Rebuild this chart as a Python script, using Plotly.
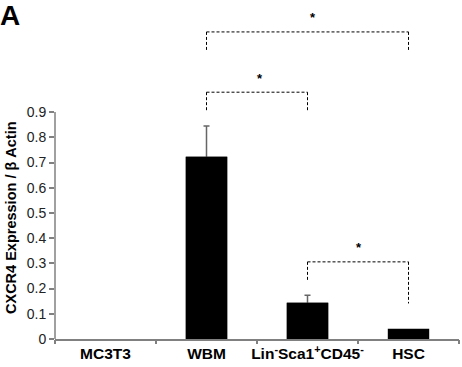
import plotly.graph_objects as go

categories = ["MC3T3", "WBM", "Lin<sup>-</sup>Sca1<sup>+</sup>CD45<sup>-</sup>", "HSC"]
values = [0.0, 0.723, 0.144, 0.041]
errors = [None, 0.122, 0.030, None]
y_ticks = [0, 0.1, 0.2, 0.3, 0.4, 0.5, 0.6, 0.7, 0.8, 0.9]
y_tick_labels = ["0", "0.1", "0.2", "0.3", "0.4", "0.5", "0.6", "0.7", "0.8", "0.9"]

# significance brackets
bracket_left = [1, 1, 2]
bracket_right = [3, 2, 3]
bracket_top = [1.218, 0.979, 0.306]
bracket_left_foot = [1.139, 0.900, 0.227]
bracket_right_foot = [1.139, 0.900, 0.141]
star_x = [2.05, 1.53, 2.51]
star_y = [1.29, 1.05, 0.38]

font_family = "Liberation Sans, Arial, sans-serif"

idx = list(range(len(categories)))
err_x = [i for i, e in zip(idx, errors) if e is not None]
err_y = [values[i] for i in err_x]
err_v = [errors[i] for i in err_x]

fig = go.Figure()
# bars carrying the error bars (drawn first, their lower half hidden below)
fig.add_trace(go.Bar(
    x=err_x, y=err_y,
    marker=dict(color="black", line=dict(width=0)),
    error_y=dict(type="data", symmetric=True, array=err_v,
                 color="#666666", thickness=1.5, width=3),
    showlegend=False, hoverinfo="skip",
))
# main bars on top
fig.add_trace(go.Bar(
    x=idx, y=values,
    marker=dict(color="black", line=dict(width=0)),
    showlegend=False,
))

shapes = []
for l, r, t, lf, rf in zip(bracket_left, bracket_right, bracket_top,
                           bracket_left_foot, bracket_right_foot):
    dash = dict(color="black", width=1, dash="3px,2px")
    shapes.append(dict(type="line", xref="x", yref="y", x0=l, x1=r, y0=t, y1=t, line=dash))
    shapes.append(dict(type="line", xref="x", yref="y", x0=l, x1=l, y0=t, y1=lf, line=dash))
    shapes.append(dict(type="line", xref="x", yref="y", x0=r, x1=r, y0=t, y1=rf, line=dash))

# y axis line only up to 0.9
shapes.append(dict(type="line", xref="paper", yref="y", x0=0, x1=0,
                   y0=y_ticks[0], y1=y_ticks[-1],
                   line=dict(color="#808080", width=1.5)))

annotations = []
for sx, sy in zip(star_x, star_y):
    annotations.append(dict(x=sx, y=sy, xref="x", yref="y", text="<b>*</b>",
                            showarrow=False, yshift=-4,
                            font=dict(family=font_family, size=13, color="black")))

annotations.append(dict(x=-0.1089, y=0.3678, xref="paper", yref="paper",
                        text="<b>CXCR4 Expression / β Actin</b>", textangle=-90,
                        showarrow=False, xanchor="center", yanchor="middle",
                        font=dict(family=font_family, size=14.5, color="black")))
annotations.append(dict(x=-0.1114, y=0.9818, xref="paper", yref="paper",
                        text="<b>A</b>", showarrow=False,
                        xanchor="center", yanchor="middle",
                        font=dict(family=font_family, size=28, color="black")))

fig.update_layout(
    width=462, height=367,
    margin=dict(l=55, r=3, t=10, b=28),
    paper_bgcolor="white", plot_bgcolor="white",
    bargap=0.59, barmode="overlay",
    shapes=shapes,
    annotations=annotations,
    font=dict(family=font_family, color="black"),
    xaxis=dict(
        type="linear",
        range=[-0.5, 3.5],
        tickmode="array",
        tickvals=idx,
        ticktext=["<b>" + c + "</b>" for c in categories],
        ticks="",
        showline=True, linecolor="#808080", linewidth=1.5,
        showgrid=False, zeroline=False,
        tickfont=dict(family=font_family, size=15.5, color="black"),
    ),
    xaxis2=dict(
        overlaying="x", range=[-0.5, 3.5], tickmode="array",
        tickvals=[-0.5, 0.5, 1.5, 2.5, 3.5], ticks="outside", ticklen=4,
        tickcolor="#808080", tickwidth=1.5, showticklabels=False,
        showgrid=False, zeroline=False, showline=False, side="bottom",
        anchor="y",
    ),
    yaxis=dict(
        range=[0, 1.305],
        tickmode="array", tickvals=y_ticks, ticktext=y_tick_labels,
        ticks="outside", ticklen=5, tickcolor="#808080", tickwidth=1.5,
        showline=False, showgrid=False, zeroline=False,
        tickfont=dict(family=font_family, size=14, color="#222222"),
    ),
)
# invisible trace to activate the tick-only x axis
fig.add_trace(go.Scatter(x=[-0.5], y=[0], xaxis="x2", yaxis="y",
                         mode="markers", marker=dict(opacity=0),
                         showlegend=False, hoverinfo="skip"))

fig.write_html("out.html", post_script="document.body.style.margin='0px';",
               config={"displayModeBar": False})
